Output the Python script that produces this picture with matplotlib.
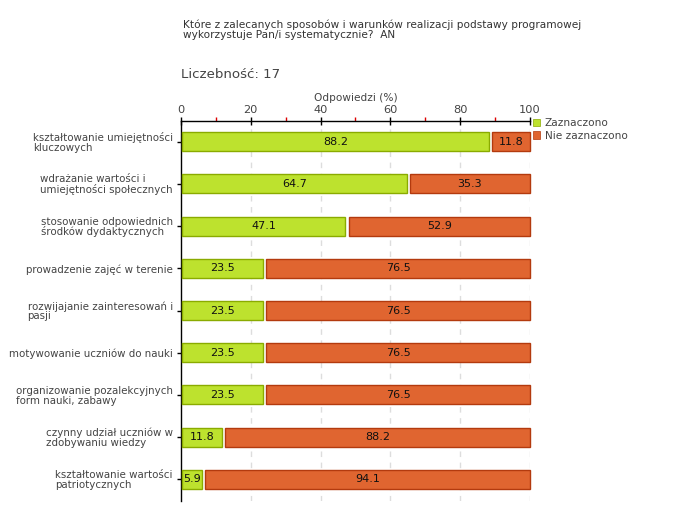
import matplotlib
matplotlib.use("Agg")
import matplotlib.pyplot as plt
import numpy as np

categories = [
    "kształtowanie umiejętności\nkluczowych",
    "wdrażanie wartości i\numiejętności społecznych",
    "stosowanie odpowiednich\nśrodków dydaktycznych",
    "prowadzenie zajęć w terenie",
    "rozwijajanie zainteresowań i\npasji",
    "motywowanie uczniów do nauki",
    "organizowanie pozalekcyjnych\nform nauki, zabawy",
    "czynny udział uczniów w\nzdobywaniu wiedzy",
    "kształtowanie wartości\npatriotycznych",
]
zaznaczono = [88.2, 64.7, 47.1, 23.5, 23.5, 23.5, 23.5, 11.8, 5.9]
nie_zaznaczono = [11.8, 35.3, 52.9, 76.5, 76.5, 76.5, 76.5, 88.2, 94.1]
series_names = ["Zaznaczono", "Nie zaznaczono"]
x_ticks = [0, 20, 40, 60, 80, 100]
minor_ticks = [10, 30, 50, 70, 90]

title = "Które z zalecanych sposobów i warunków realizacji podstawy programowej\nwykorzystuje Pan/i systematycznie?  AN"
count_text = "Liczebność: 17"
xlabel = "Odpowiedzi (%)"

green, green_edge = "#bde22e", "#8aab00"
orange, orange_edge = "#e06530", "#b33a0e"

plt.rcParams['font.family'] = ['DejaVu Sans']
fig = plt.figure(figsize=(6.8, 5.2), dpi=100)
ax = fig.add_axes([181/680, 1 - 500.5/520, (530 - 181)/680, (500.5 - 120.5)/520])

y = np.arange(len(categories))
h = 0.45
z = np.array(zaznaczono)
n = np.array(nie_zaznaczono)
b1 = ax.barh(y, z - 0.3, left=0.3, height=h, color=green, edgecolor=green_edge, linewidth=1, zorder=3, label=series_names[0])
b2 = ax.barh(y, n - 0.9, left=z + 0.9, height=h, color=orange, edgecolor=orange_edge, linewidth=1, zorder=3, label=series_names[1])
for p in list(b1) + list(b2):
    p.set_clip_on(False)

for yi, zv, nv in zip(y, z, n):
    ax.text(zv / 2 + 0.2, yi, f"{zv:.1f}", ha="center", va="center", fontsize=8, color="#111111", zorder=4)
    ax.text(zv + 0.9 + (nv - 0.9) / 2, yi, f"{nv:.1f}", ha="center", va="center", fontsize=8, color="#111111", zorder=4)

ax.set_xlim(0, 100)
ax.set_ylim(len(categories) - 0.5, -0.5)
ax.xaxis.tick_top()
ax.set_xticks(x_ticks)
ax.set_xticks(minor_ticks, minor=True)
ax.tick_params(axis="x", which="major", direction="inout", length=6, width=1, color="black",
               labelsize=8.2, labelcolor="#444444", pad=1)
ax.tick_params(axis="x", which="minor", direction="out", length=3, width=1, color="#dd0000")
ax.set_yticks(y)
ax.set_yticklabels(categories, fontsize=7.4, color="#444444", multialignment="left", linespacing=0.95)
ax.tick_params(axis="y", direction="out", length=3, width=1, color="black", pad=3)

for xv in x_ticks[1:]:
    ax.axvline(xv, color="#dddddd", linestyle=(0, (4, 4)), linewidth=1, zorder=1)

for s in ["right", "bottom"]:
    ax.spines[s].set_visible(False)
for s in ["top", "left"]:
    ax.spines[s].set_color("black")
    ax.spines[s].set_linewidth(1)

ax.set_xlabel(xlabel, fontsize=7.6, color="#444444", labelpad=3)
ax.xaxis.set_label_position("top")

fig.text(183/680, 1 - 19/520, title, fontsize=7.6, color="#333333", va="top", ha="left", linespacing=1.1)
fig.text(181/680, 1 - 75/520, count_text, fontsize=9.6, color="#444444", va="center", ha="left")

leg = ax.legend(loc="upper left", bbox_to_anchor=(533/680, 1 - 118/520), bbox_transform=fig.transFigure,
                frameon=False, fontsize=7.6, handlelength=0.7, handleheight=0.7, handletextpad=0.4,
                labelspacing=0.25, borderaxespad=0, borderpad=0)
for t in leg.get_texts():
    t.set_color("#444444")
for p in leg.get_patches():
    p.set_linewidth(0.5)

fig.savefig("out.png", dpi=100)
